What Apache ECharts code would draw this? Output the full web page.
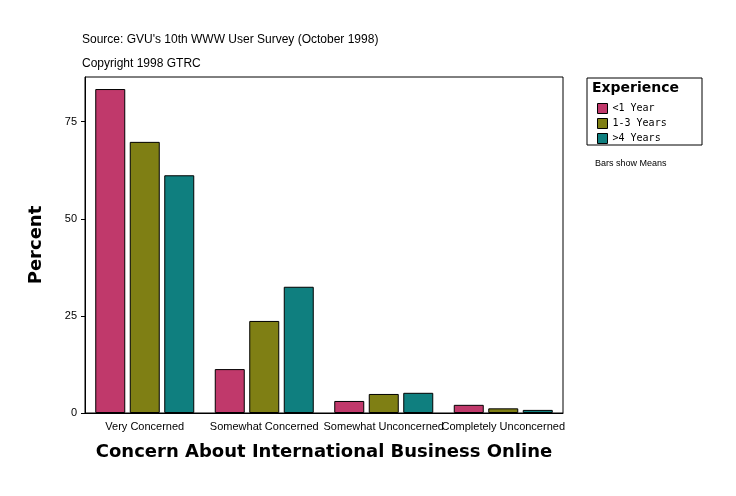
<!DOCTYPE html>
<html><head><meta charset="utf-8">
<script src="https://cdn.jsdelivr.net/npm/echarts@6/dist/echarts.min.js"></script>
<style>html,body{margin:0;padding:0;background:#fff}#c{width:736px;height:496px}</style>
</head><body><div id="c"></div>
<script>
const categories = ["Very Concerned","Somewhat Concerned","Somewhat Unconcerned","Completely Unconcerned"];
const lessThan1 = [83.4, 11.3, 3.1, 2.1];
const oneToThree = [69.8, 23.7, 4.9, 1.2];
const overFour = [61.2, 32.5, 5.2, 0.8];
const seriesNames = ["<1 Year","1-3 Years",">4 Years"];
const colors = ["#C0396B","#7F7F14","#0F7F7F"];
const chart = echarts.init(document.getElementById('c'));
const mk = (name, data, color) => ({type:'bar', name, data, barWidth:30, barGap:'15%', barCategoryGap:'30%',
  itemStyle:{color, borderColor:'#000', borderWidth:1}});
chart.setOption({
  animation:false,
  grid:{left:85,right:173,top:77,bottom:83,show:true,borderColor:'#000',borderWidth:1},
  xAxis:{type:'category',data:categories,axisTick:{show:false},axisLine:{lineStyle:{color:'#000'}},
    axisLabel:{color:'#000',fontFamily:'Arial',fontSize:11,interval:0,margin:8},
    name:'Concern About International Business Online',nameLocation:'middle',nameGap:30,
    nameTextStyle:{color:'#000',fontFamily:'DejaVu Sans',fontWeight:'bold',fontSize:18,letterSpacing:0.5}},
  yAxis:{type:'value',min:0,max:86.5,interval:25,splitLine:{show:false},
    axisLine:{show:true,lineStyle:{color:'#000'}},axisTick:{show:true,length:4,lineStyle:{color:'#000'}},
    axisLabel:{color:'#000',fontFamily:'Arial',fontSize:11,showMaxLabel:false},
    name:'Percent',nameLocation:'middle',nameGap:40,
    nameTextStyle:{color:'#000',fontFamily:'DejaVu Sans',fontWeight:'bold',fontSize:18}},
  legend:{orient:'vertical',left:592,top:98,itemWidth:10,itemHeight:10,itemGap:4,
    textStyle:{fontFamily:'DejaVu Sans Mono',fontSize:10,color:'#000'},data:seriesNames,icon:'rect',
    itemStyle:{borderColor:'#000',borderWidth:1}},
  graphic:[
    {type:'text',left:82,top:34,style:{text:"Source: GVU's 10th WWW User Survey (October 1998)",font:'12px Arial',fill:'#000'}},
    {type:'text',left:82,top:58,style:{text:"Copyright 1998 GTRC",font:'12px Arial',fill:'#000'}},
    {type:'rect',shape:{x:587,y:78,width:115,height:67},style:{fill:'none',stroke:'#000',lineWidth:1}},
    {type:'text',left:592,top:81,style:{text:"Experience",font:'bold 14px DejaVu Sans',fill:'#000'}},
    {type:'text',left:595,top:159,style:{text:"Bars show Means",font:'9px Arial',fill:'#000'}}
  ],
  series:[mk(seriesNames[0],lessThan1,colors[0]),mk(seriesNames[1],oneToThree,colors[1]),mk(seriesNames[2],overFour,colors[2])]
});
</script></body></html>
